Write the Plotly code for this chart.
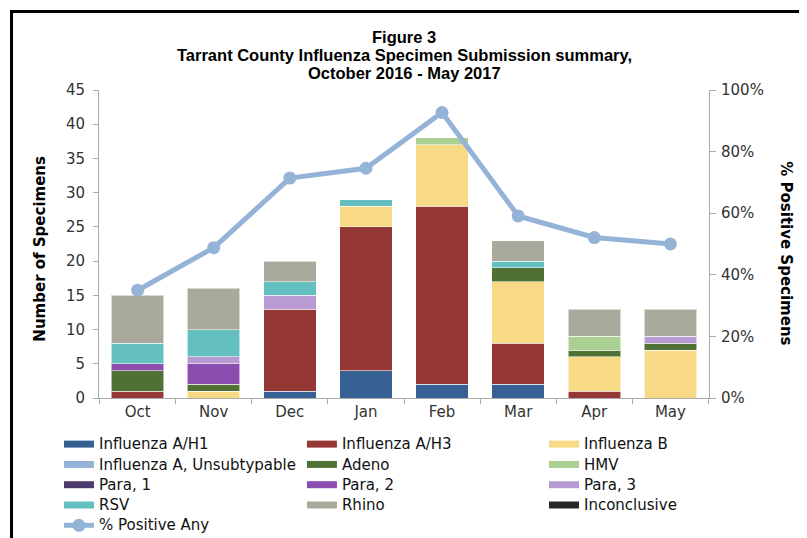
import plotly.graph_objects as go

months = ["Oct", "Nov", "Dec", "Jan", "Feb", "Mar", "Apr", "May"]

flu_a_h1 = [0, 0, 1, 4, 2, 2, 0, 0]
flu_a_h3 = [1, 0, 12, 21, 26, 6, 1, 0]
flu_b = [0, 1, 0, 3, 9, 9, 5, 7]
flu_a_unsub = [0, 0, 0, 0, 0, 0, 0, 0]
adeno = [3, 1, 0, 0, 0, 2, 1, 1]
hmv = [0, 0, 0, 0, 1, 0, 2, 0]
para1 = [0, 0, 0, 0, 0, 0, 0, 0]
para2 = [1, 3, 0, 0, 0, 0, 0, 0]
para3 = [0, 1, 2, 0, 0, 0, 0, 1]
rsv = [3, 4, 2, 1, 0, 1, 0, 0]
rhino = [7, 6, 3, 0, 0, 3, 4, 4]
inconclusive = [0, 0, 0, 0, 0, 0, 0, 0]

pct_positive = [35.0, 48.8, 71.4, 74.6, 92.7, 59.1, 52.1, 50.0]

left_ticks = [0, 5, 10, 15, 20, 25, 30, 35, 40, 45]
right_ticks = [0, 20, 40, 60, 80, 100]
right_tick_text = ["0%", "20%", "40%", "60%", "80%", "100%"]

title_lines = [
    "Figure 3",
    "Tarrant County Influenza Specimen Submission summary,",
    "October 2016 - May 2017",
]

series = [
    ("Influenza A/H1", flu_a_h1, "#376092", "legend"),
    ("Influenza A/H3", flu_a_h3, "#953735", "legend2"),
    ("Influenza B", flu_b, "#F8DA86", "legend3"),
    ("Influenza A, Unsubtypable", flu_a_unsub, "#95B3D7", "legend"),
    ("Adeno", adeno, "#4F7234", "legend2"),
    ("HMV", hmv, "#ABCE92", "legend3"),
    ("Para, 1", para1, "#4E3B6E", "legend"),
    ("Para, 2", para2, "#8B4EAF", "legend2"),
    ("Para, 3", para3, "#B99BD4", "legend3"),
    ("RSV", rsv, "#63BFC0", "legend"),
    ("Rhino", rhino, "#A9AA9B", "legend2"),
    ("Inconclusive", inconclusive, "#262626", "legend3"),
]

TEXT_FONT = "DejaVu Sans, Verdana, sans-serif"
TITLE_FONT = "Liberation Sans, Arial, sans-serif"
LINE_COLOR = "#95B3D7"


def legend_label(s):
    return '<span style="font-size:15px">' + s + "</span>"


fig = go.Figure()

for name, vals, color, leg in series:
    fig.add_trace(go.Bar(
        x=months,
        y=[v if v else None for v in vals],
        name=name,
        legendgroup=name,
        showlegend=False,
        marker=dict(color=color, line=dict(color="rgba(255,255,255,0.55)", width=1)),
        yaxis="y",
    ))

# legend proxies (wide flat swatches like the original)
for name, vals, color, leg in series:
    fig.add_trace(go.Scatter(
        x=[None], y=[None], mode="lines", name=legend_label(name), legendgroup=name,
        line=dict(color=color, width=7), legend=leg, hoverinfo="skip",
    ))

fig.add_trace(go.Scatter(
    x=months, y=pct_positive, name=legend_label("% Positive Any"), yaxis="y2",
    mode="lines+markers", line=dict(color=LINE_COLOR, width=5),
    marker=dict(color=LINE_COLOR, size=13), legend="legend",
    hovertemplate="%{x}: %{y:.1f}%<extra>% Positive Any</extra>",
))

legend_common = dict(
    orientation="v", yanchor="top", xanchor="left", y=-0.1006,
    bgcolor="rgba(0,0,0,0)", borderwidth=0, tracegroupgap=0,
    font=dict(family=TEXT_FONT, size=13.3, color="#111111"),
)

axis_line = "#ABABAB"
tick_font = dict(family=TEXT_FONT, size=15, color="#333333")
title_font = dict(family=TITLE_FONT, size=16.5, color="#000000", weight="bold")
axis_title_font = dict(family=TEXT_FONT, size=15, color="#000000", weight="bold")

annotations = []
for line, yy in zip(title_lines, [1.1721, 1.1136, 1.0552]):
    annotations.append(dict(text=line, x=0.5, y=yy, xref="paper", yref="paper",
                            showarrow=False, xanchor="center", yanchor="middle",
                            font=title_font))
annotations += [
    dict(text="Number of Specimens", x=-0.0967, y=0.485, xref="paper", yref="paper",
         textangle=-90, showarrow=False, xanchor="center", yanchor="middle",
         font=axis_title_font),
    dict(text="% Positive Specimens", x=1.1262, y=0.47, xref="paper", yref="paper",
         textangle=90, showarrow=False, xanchor="center", yanchor="middle",
         font=axis_title_font),
]

fig.update_layout(
    width=799, height=530,
    margin=dict(l=91, r=98, t=82, b=140, autoexpand=False),
    paper_bgcolor="white", plot_bgcolor="white",
    barmode="stack", bargap=0.31,
    xaxis=dict(
        type="category", showline=True, linecolor=axis_line, linewidth=1,
        ticks="outside", tickson="boundaries", ticklen=5, tickcolor=axis_line,
        tickfont=tick_font, showgrid=False, zeroline=False,
    ),
    yaxis=dict(
        range=[0, 45], tickvals=left_ticks, showline=True, linecolor=axis_line,
        linewidth=1, ticks="outside", ticklen=5, tickcolor=axis_line,
        tickfont=tick_font, showgrid=False, zeroline=False, ticklabelstandoff=5,
    ),
    yaxis2=dict(
        range=[0, 100], tickvals=right_ticks, ticktext=right_tick_text,
        overlaying="y", side="right", showline=True, linecolor=axis_line,
        linewidth=1, ticks="outside", ticklen=6, tickcolor=axis_line,
        tickfont=tick_font, showgrid=False, zeroline=False, ticklabelstandoff=2,
    ),
    legend=dict(x=-0.0656, **legend_common),
    legend2=dict(x=0.3327, **legend_common),
    legend3=dict(x=0.7295, **legend_common),
    annotations=annotations,
    shapes=[
        dict(type="rect", xref="paper", yref="paper", x0=-0.1434, x1=1.1566,
             y0=-0.526, y1=1.2549, line=dict(color="#000000", width=3),
             fillcolor="rgba(0,0,0,0)", layer="above"),
    ],
)

fig.write_html("out.html")
